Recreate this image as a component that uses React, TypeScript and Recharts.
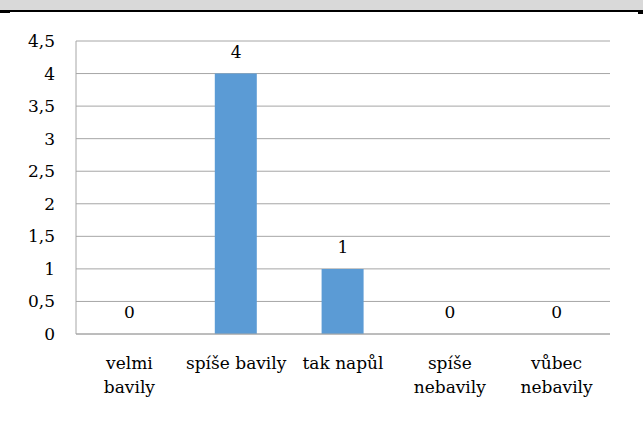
import {
  ComposedChart,
  Bar,
  Line,
  XAxis,
  YAxis,
  CartesianGrid,
  LabelList,
} from "recharts";

// survey answers and counts
const categories = [
  "velmi\nbavily",
  "spíše bavily",
  "tak napůl",
  "spíše\nnebavily",
  "vůbec\nnebavily",
];
const counts = [0, 4, 1, 0, 0];
const yTicks = [0, 0.5, 1, 1.5, 2, 2.5, 3, 3.5, 4, 4.5];

const FONT = "DejaVu Serif";
const FONT_SIZE = 17;
const GRID = "#a6a6a6";

const data = categories.map((name, i) => ({ name, count: counts[i] }));

// category label, split on explicit line breaks
const CategoryTick = (props: any) => {
  const { x, y, payload } = props;
  const lines = String(payload.value).split("\n");
  return (
    <text
      x={x}
      y={y}
      textAnchor="middle"
      fontFamily={FONT}
      fontSize={FONT_SIZE}
      fill="#000"
    >
      {lines.map((line, i) => (
        <tspan key={i} x={x} dy={i === 0 ? 0 : 24}>
          {line}
        </tspan>
      ))}
    </text>
  );
};

// value above each bar top (drawn from an invisible line so zero bars get one too)
const ValueLabel = (props: any) => {
  const { x, y, value } = props;
  return (
    <text
      x={Number(x)}
      y={Number(y) - 16}
      textAnchor="middle"
      fontFamily={FONT}
      fontSize={FONT_SIZE}
      fill="#000"
    >
      {value}
    </text>
  );
};

export default function App() {
  return (
    <div
      style={{
        position: "fixed",
        left: 0,
        top: 0,
        width: 643,
        height: 445,
        background: "#fff",
        overflow: "hidden",
      }}
    >
      <div style={{ height: 10, background: "#d9d9d9" }} />
      <div style={{ height: 2, background: "#000" }} />
      <div
        style={{
          position: "absolute",
          left: 0,
          top: 10,
          width: 10,
          height: 3,
          background: "#000",
        }}
      />
      <div
        style={{
          position: "absolute",
          right: 0,
          top: 10,
          width: 5,
          height: 4,
          background: "#000",
        }}
      />
      <div style={{ position: "absolute", left: 0, top: 0 }}>
        <ComposedChart
          width={643}
          height={445}
          data={data}
          margin={{ top: 41, right: 33, bottom: 0, left: 0 }}
        >
          <CartesianGrid vertical={false} stroke={GRID} strokeWidth={1} />
          <XAxis
            dataKey="name"
            height={111}
            axisLine={{ stroke: GRID }}
            tickLine={false}
            tickSize={0}
            tickMargin={35}
            interval={0}
            tick={<CategoryTick />}
          />
          <YAxis
            width={76}
            domain={[0, 4.5]}
            ticks={yTicks}
            interval={0}
            axisLine={{ stroke: GRID }}
            tickLine={false}
            tickSize={0}
            tickMargin={21}
            tickFormatter={(v: number) => String(v).replace(".", ",")}
            tick={{ fontFamily: FONT, fontSize: FONT_SIZE, fill: "#000" }}
          />
          <Bar
            dataKey="count"
            fill="#5b9bd5"
            barSize={42}
            isAnimationActive={false}
          />
          <Line
            dataKey="count"
            stroke="none"
            dot={false}
            activeDot={false}
            isAnimationActive={false}
          >
            <LabelList dataKey="count" content={<ValueLabel />} />
          </Line>
        </ComposedChart>
      </div>
    </div>
  );
}
